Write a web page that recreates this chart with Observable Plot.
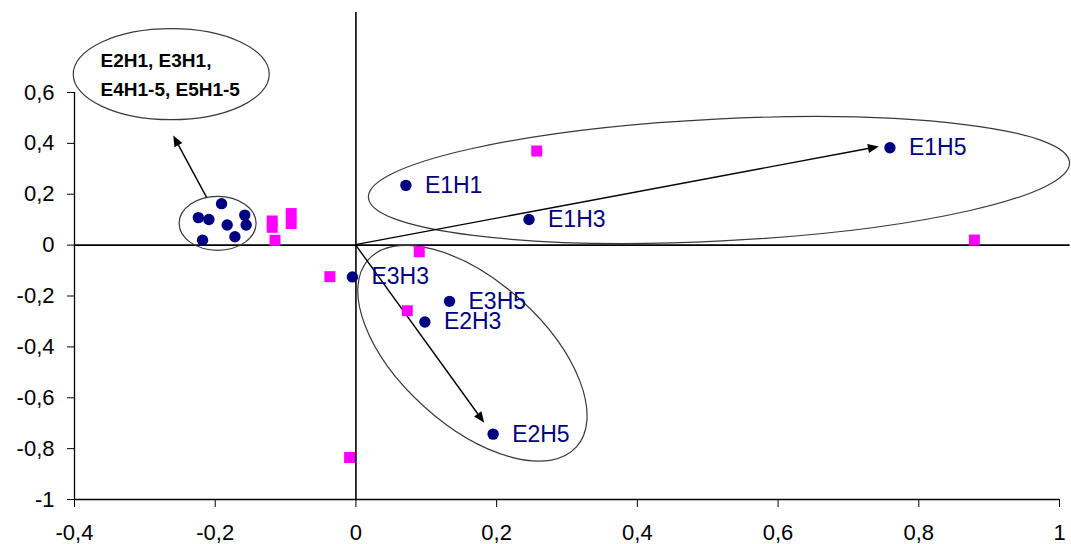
<!DOCTYPE html>
<html>
<head>
<meta charset="utf-8">
<script src="https://cdn.jsdelivr.net/npm/d3@7"></script>
<script src="https://cdn.jsdelivr.net/npm/@observablehq/plot@0.6"></script>
<style>
  html, body { margin: 0; padding: 0; background: #fff; }
  #chart svg { display: block; }
</style>
</head>
<body>
<div id="chart"></div>
<script>
// ---- data ----
const xTicks = [-0.4, -0.2, 0, 0.2, 0.4, 0.6, 0.8, 1];
const yTicks = [-1, -0.8, -0.6, -0.4, -0.2, 0, 0.2, 0.4, 0.6];

// unlabeled navy points (cluster E2H1, E3H1, E4H1-5, E5H1-5)
const clusterX = [-0.224, -0.209, -0.191, -0.183, -0.172, -0.158, -0.156, -0.218];
const clusterY = [0.108, 0.101, 0.163, 0.079, 0.033, 0.118, 0.079, 0.019];

// labeled navy points
const pointLabels = ["E1H1", "E1H3", "E1H5", "E3H3", "E3H5", "E2H3", "E2H5"];
const pointX = [0.071, 0.246, 0.759, -0.005, 0.133, 0.098, 0.195];
const pointY = [0.235, 0.101, 0.383, -0.125, -0.221, -0.302, -0.743];

// magenta squares
const pinkX = [-0.119, -0.119, -0.092, -0.092, -0.115, -0.037, 0.090, 0.073, 0.257, 0.879, -0.009];
const pinkY = [0.095, 0.070, 0.124, 0.085, 0.019, -0.124, -0.026, -0.258, 0.370, 0.020, -0.835];

// annotation callout text
const calloutLines = ["E2H1, E3H1,", "E4H1-5, E5H1-5"];
const calloutX = [-0.363, -0.363];
const calloutY = [0.726, 0.612];

// ellipses (centres in data units)
const ellipseX = [0.5167, 0.1663, -0.1959, -0.2618];
const ellipseY = [0.254, -0.427, 0.0839, 0.670];

// arrows (data units)
const arrowX1 = [0, 0, -0.2115];
const arrowY1 = [0, 0, 0.186];
const arrowX2 = [0.744, 0.183, -0.259];
const arrowY2 = [0.386, -0.700, 0.429];

// ---- styles ----
const ellipseStyle = [
  {rx: 351, ry: 61, angle: -2.85},
  {rx: 140, ry: 72, angle: 42},
  {rx: 38.5, ry: 27, angle: 0},
  {rx: 98, ry: 45.5, angle: 0}
];
const NAVY = "#000080", PINK = "#ff00ff";
const FONT = "'Liberation Sans', Arial, sans-serif";
const fmt = d => String(d).replace(".", ",");

const points = pointLabels.map((l, i) => ({label: l, x: pointX[i], y: pointY[i]}));
const cluster = clusterX.map((x, i) => ({x, y: clusterY[i]}));
const pinks = pinkX.map((x, i) => ({x, y: pinkY[i]}));
const callout = calloutLines.map((t, i) => ({t, x: calloutX[i], y: calloutY[i]}));
const ellipses = ellipseX.map((x, i) => ({x, y: ellipseY[i], ...ellipseStyle[i]}));
const arrows = arrowX1.map((x1, i) => ({x1, y1: arrowY1[i], x2: arrowX2[i], y2: arrowY2[i]}));

function annotations(index, scales) {
  const {x, y} = scales;
  const g = d3.create("svg:g");
  for (const e of ellipses) {
    const cx = x(e.x), cy = y(e.y);
    g.append("ellipse")
      .attr("cx", cx).attr("cy", cy).attr("rx", e.rx).attr("ry", e.ry)
      .attr("transform", `rotate(${e.angle} ${cx} ${cy})`)
      .attr("fill", "none").attr("stroke", "#3a3a3a").attr("stroke-width", 1.2);
  }
  for (const a of arrows) {
    const X1 = x(a.x1), Y1 = y(a.y1), X2 = x(a.x2), Y2 = y(a.y2);
    const ang = Math.atan2(Y2 - Y1, X2 - X1);
    const L = 11, W = 4.5;
    const bx = X2 - L * Math.cos(ang), by = Y2 - L * Math.sin(ang);
    g.append("line").attr("x1", X1).attr("y1", Y1).attr("x2", bx).attr("y2", by)
      .attr("stroke", "#000").attr("stroke-width", 1.4);
    const px = -Math.sin(ang), py = Math.cos(ang);
    g.append("polygon")
      .attr("points", `${X2},${Y2} ${bx + W * px},${by + W * py} ${bx - W * px},${by - W * py}`)
      .attr("fill", "#000");
  }
  return g.node();
}

const chart = Plot.plot({
  width: 1071,
  height: 544,
  marginLeft: 74,
  marginRight: 12,
  marginTop: 12,
  marginBottom: 45,
  style: {fontFamily: FONT, fontSize: "22px", color: "#000", background: "#fff"},
  x: {domain: [-0.4, 1], ticks: xTicks, tickFormat: fmt, tickSize: 8, tickPadding: 17, label: null},
  y: {domain: [-1, 0.9145], ticks: yTicks, tickFormat: fmt, tickSize: 7, tickPadding: 13, label: null},
  marks: [
    // axis lines
    Plot.ruleX([-0.4], {y1: -1, y2: 0.6, stroke: "#000", strokeWidth: 1.3}),
    Plot.ruleY([-1], {x1: -0.4, x2: 1, stroke: "#000", strokeWidth: 1.3}),
    // cross-hair through origin
    Plot.ruleY([0], {x1: -0.4, x2: 1.015, stroke: "#000", strokeWidth: 1.6}),
    Plot.ruleX([0], {y1: -1, y2: 0.9145, stroke: "#000", strokeWidth: 1.6}),
    annotations,
    Plot.dot(pinks, {x: "x", y: "y", symbol: "square", r: 6.2, fill: PINK, stroke: "none"}),
    Plot.dot(cluster, {x: "x", y: "y", r: 5.7, fill: NAVY, stroke: "none"}),
    Plot.dot(points, {x: "x", y: "y", r: 5.7, fill: NAVY, stroke: "none"}),
    Plot.text(points, {x: "x", y: "y", text: "label", dx: 19, textAnchor: "start", fill: NAVY, fontSize: 23, fontFamily: FONT}),
    Plot.text(callout, {x: "x", y: "y", text: "t", textAnchor: "start", fill: "#000", fontSize: 19, fontWeight: "bold", fontFamily: FONT, letterSpacing: -0.6})
  ]
});
document.getElementById("chart").appendChild(chart);
</script>
</body>
</html>
